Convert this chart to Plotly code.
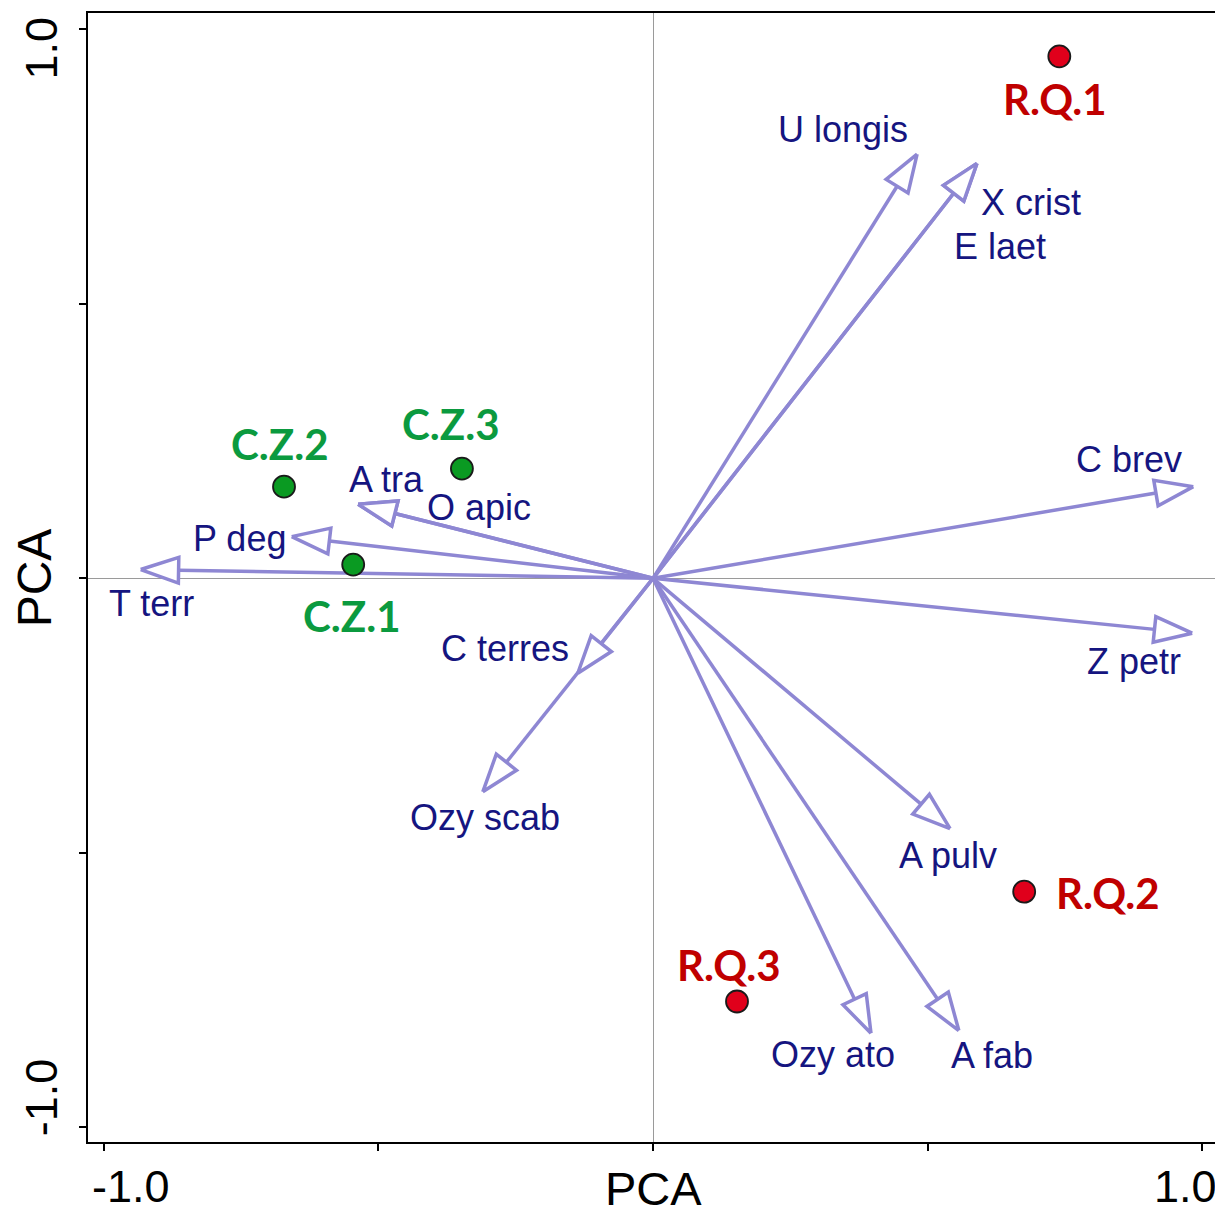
import numpy as np
import plotly.graph_objects as go

# ---- data ----
species = ["U longis", "X crist", "E laet", "C brev", "Z petr", "A pulv", "A fab",
           "Ozy ato", "Ozy scab", "C terres", "T terr", "P deg", "A tra", "O apic"]
species_x = [0.481, 0.590, 0.590, 0.984, 0.982, 0.541, 0.557,
             0.397, -0.310, -0.137, -0.933, -0.658, -0.537, -0.537]
species_y = [0.773, 0.756, 0.756, 0.167, -0.100, -0.456, -0.824,
             -0.829, -0.389, -0.173, 0.016, 0.076, 0.135, 0.135]

sites = ["C.Z.1", "C.Z.2", "C.Z.3", "R.Q.1", "R.Q.2", "R.Q.3"]
site_x = [-0.546, -0.672, -0.348, 0.740, 0.676, 0.153]
site_y = [0.025, 0.167, 0.200, 0.951, -0.571, -0.771]
site_group = ["C", "C", "C", "R", "R", "R"]

tick_vals = [-1.0, -0.5, 0.0, 0.5, 1.0]
axis_title = "PCA"

# ---- label placement (layout) ----
species_label_pos = [(0.346, 0.818), (0.689, 0.684), (0.632, 0.604), (0.867, 0.216),
                     (0.876, -0.151), (0.537, -0.505), (0.617, -0.869), (0.328, -0.867),
                     (-0.306, -0.436), (-0.270, -0.127), (-0.914, -0.045), (-0.754, 0.073),
                     (-0.486, 0.180), (-0.317, 0.129)]
site_label_pos = [(-0.548, -0.069), (-0.679, 0.245), (-0.368, 0.282),
                  (0.732, 0.873), (0.829, -0.573), (0.138, -0.705)]

ARROW = "#8E87D3"
NAVY = "#151580"
GREEN_TXT = "#0B9A3F"
RED_TXT = "#C00000"
GREEN_DOT = "#0A9A22"
RED_DOT = "#E0001B"

head_len = 0.069
head_half = 0.0235

fig = go.Figure()

# arrow shafts
lx, ly = [], []
tri_x, tri_y = [], []
for xe, ye in zip(species_x, species_y):
    n = np.hypot(xe, ye)
    ux, uy = xe / n, ye / n
    bx, by = xe - head_len * ux, ye - head_len * uy
    lx += [0, bx, None]
    ly += [0, by, None]
    px, py = -uy, ux
    tri_x.append([xe, bx + head_half * px, bx - head_half * px, xe])
    tri_y.append([ye, by + head_half * py, by - head_half * py, ye])

fig.add_trace(go.Scatter(x=lx, y=ly, mode="lines",
                         line=dict(color=ARROW, width=3.5), hoverinfo="skip",
                         showlegend=False))
for tx, ty in zip(tri_x, tri_y):
    fig.add_trace(go.Scatter(x=tx, y=ty, mode="lines", fill="toself",
                             fillcolor="white", line=dict(color=ARROW, width=3.5),
                             hoverinfo="skip", showlegend=False))

# site points
dot_colors = [GREEN_DOT if g == "C" else RED_DOT for g in site_group]
fig.add_trace(go.Scatter(x=site_x, y=site_y, mode="markers", text=sites,
                         marker=dict(size=22, color=dot_colors,
                                     line=dict(color="#1a1a1a", width=1.8)),
                         showlegend=False))

annotations = []
for name, (ax, ay) in zip(species, species_label_pos):
    annotations.append(dict(x=ax, y=ay, xref="x", yref="y", text=name, showarrow=False,
                            font=dict(family="Liberation Sans, Arial", size=36, color=NAVY),
                            xanchor="center", yanchor="middle"))
for name, (ax, ay), g in zip(sites, site_label_pos, site_group):
    annotations.append(dict(x=ax, y=ay, xref="x", yref="y", text="<b>" + name + "</b>",
                            showarrow=False,
                            font=dict(family="Lato", size=42,
                                      color=GREEN_TXT if g == "C" else RED_TXT),
                            xanchor="center", yanchor="middle"))

tick_font = dict(family="Liberation Sans, Arial", size=45, color="black")
# x tick labels
annotations.append(dict(x=tick_vals[0], y=0, xref="x", yref="paper", text="-1.0",
                        showarrow=False, font=tick_font, xanchor="center", yanchor="middle",
                        xshift=27, yshift=-44))
annotations.append(dict(x=tick_vals[-1], y=0, xref="x", yref="paper", text="1.0",
                        showarrow=False, font=tick_font, xanchor="center", yanchor="middle",
                        xshift=-17, yshift=-44))
# y tick labels (rotated)
annotations.append(dict(x=0, y=tick_vals[-1], xref="paper", yref="y", text="1.0",
                        showarrow=False, font=tick_font, textangle=-90,
                        xanchor="center", yanchor="middle", xshift=-47, yshift=-19))
annotations.append(dict(x=0, y=tick_vals[0], xref="paper", yref="y", text="-1.0",
                        showarrow=False, font=tick_font, textangle=-90,
                        xanchor="center", yanchor="middle", xshift=-47, yshift=30))
# axis titles
annotations.append(dict(x=0, y=0, xref="x", yref="paper", text=axis_title, showarrow=False,
                        font=dict(family="Liberation Sans, Arial", size=47, color="black"),
                        xanchor="center", yanchor="middle", yshift=-46))
annotations.append(dict(x=0, y=0, xref="paper", yref="y", text=axis_title, showarrow=False,
                        font=dict(family="Liberation Sans, Arial", size=48, color="black"),
                        textangle=-90, xanchor="center", yanchor="middle", xshift=-54))

axis_common = dict(showgrid=False, zeroline=True, zerolinecolor="#9a9a9a", zerolinewidth=1,
                   showline=True, mirror=True, linecolor="black", linewidth=2,
                   ticks="outside", ticklen=7, tickwidth=2, tickcolor="black",
                   tickvals=tick_vals, showticklabels=False)

# page body has an 8px margin; figure sized so the plot frame lands where the reference's does
fig.update_layout(
    width=1215, height=1209,
    margin=dict(l=80, r=5, t=3, b=75),
    paper_bgcolor="white", plot_bgcolor="white",
    xaxis=dict(range=[-1.029, 1.029], **axis_common),
    yaxis=dict(range=[-1.027, 1.030], **axis_common),
    annotations=annotations,
    showlegend=False,
)

fig.write_html("out.html")
